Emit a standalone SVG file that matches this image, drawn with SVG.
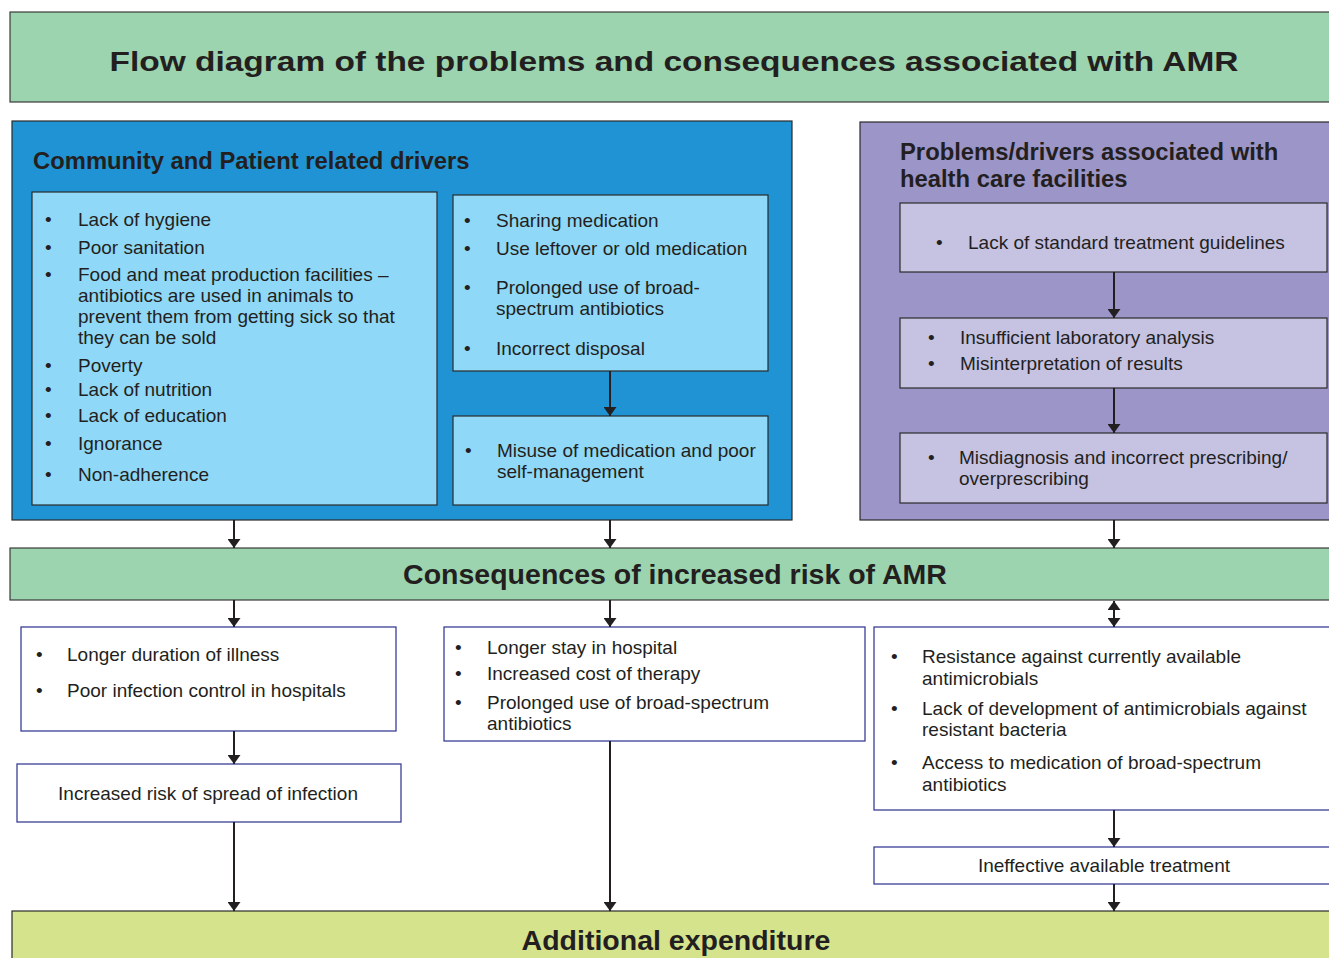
<svg xmlns="http://www.w3.org/2000/svg" width="1329" height="958" viewBox="0 0 1329 958">
  <defs>
    <marker id="head" viewBox="0 0 9 13" refX="9" refY="6.5" markerWidth="9" markerHeight="13" markerUnits="userSpaceOnUse" orient="auto-start-reverse">
      <path d="M0,0 L9,6.5 L0,13 Z" fill="#231f20"/>
    </marker>
    <style>
      text { font-family: "Liberation Sans", Arial, sans-serif; fill: #231f20; }
      .body { font-size: 19px; }
      .hd { font-size: 23.8px; font-weight: bold; }
      .big { font-size: 28.5px; font-weight: bold; }
      .green { fill: #9bd4ae; stroke: #3a3a3a; stroke-width: 1.2; }
      .blue { fill: #1f93d3; stroke: #2b2b2b; stroke-width: 1.2; }
      .lblue { fill: #8fd8f7; stroke: #2b2b2b; stroke-width: 1.2; }
      .purple { fill: #9b95c8; stroke: #2b2b2b; stroke-width: 1.2; }
      .lpurple { fill: #c5c2e2; stroke: #2b2b2b; stroke-width: 1.2; }
      .white { fill: #ffffff; stroke: #3b3f96; stroke-width: 1.3; }
      .lime { fill: #d4e38c; stroke: #2b2b2b; stroke-width: 1.2; }
      .conn line { stroke: #231f20; stroke-width: 2; marker-end: url(#head); }
    </style>
  </defs>
  <rect width="1329" height="958" fill="#ffffff"/>

  <!-- Title bar -->
  <g id="title">
    <rect class="green" x="10" y="12" width="1330" height="90"/>
    <text class="big" x="674" y="71" text-anchor="middle" font-size="31.5" textLength="1129" lengthAdjust="spacingAndGlyphs">Flow diagram of the problems and consequences associated with AMR</text>
  </g>

  <!-- Community and patient drivers -->
  <g id="community">
    <rect class="blue" x="12" y="121" width="780" height="399"/>
    <text class="hd" x="33" y="169">Community and Patient related drivers</text>
  </g>

  <g id="community-list">
    <rect class="lblue" x="32" y="192" width="405" height="313"/>
    <g class="body">
      <text x="45" y="226">•</text><text x="78" y="226">Lack of hygiene</text>
      <text x="45" y="254">•</text><text x="78" y="254">Poor sanitation</text>
      <text x="45" y="281">•</text><text x="78" y="281">Food and meat production facilities –</text>
      <text x="78" y="302">antibiotics are used in animals to</text>
      <text x="78" y="323">prevent them from getting sick so that</text>
      <text x="78" y="344">they can be sold</text>
      <text x="45" y="372">•</text><text x="78" y="372">Poverty</text>
      <text x="45" y="396">•</text><text x="78" y="396">Lack of nutrition</text>
      <text x="45" y="422">•</text><text x="78" y="422">Lack of education</text>
      <text x="45" y="450">•</text><text x="78" y="450">Ignorance</text>
      <text x="45" y="481">•</text><text x="78" y="481">Non-adherence</text>
    </g>
  </g>

  <g id="medication-use">
    <rect class="lblue" x="453" y="195" width="315" height="176"/>
    <g class="body">
      <text x="464" y="227">•</text><text x="496" y="227">Sharing medication</text>
      <text x="464" y="255">•</text><text x="496" y="255">Use leftover or old medication</text>
      <text x="464" y="294">•</text><text x="496" y="294">Prolonged use of broad-</text>
      <text x="496" y="315">spectrum antibiotics</text>
      <text x="464" y="355">•</text><text x="496" y="355">Incorrect disposal</text>
    </g>
  </g>

  <g id="misuse">
    <rect class="lblue" x="453" y="416" width="315" height="89"/>
    <g class="body">
      <text x="465" y="457">•</text><text x="497" y="457">Misuse of medication and poor</text>
      <text x="497" y="478">self-management</text>
    </g>
  </g>

  <!-- Health care facility drivers -->
  <g id="facilities">
    <rect class="purple" x="860" y="122" width="480" height="398"/>
    <text class="hd" x="900" y="160">Problems/drivers associated with</text>
    <text class="hd" x="900" y="187">health care facilities</text>
  </g>

  <g id="guidelines">
    <rect class="lpurple" x="900" y="203" width="427" height="69"/>
    <g class="body">
      <text x="936" y="249">•</text><text x="968" y="249">Lack of standard treatment guidelines</text>
    </g>
  </g>

  <g id="laboratory">
    <rect class="lpurple" x="900" y="318" width="427" height="70"/>
    <g class="body">
      <text x="928" y="344">•</text><text x="960" y="344">Insufficient laboratory analysis</text>
      <text x="928" y="370">•</text><text x="960" y="370">Misinterpretation of results</text>
    </g>
  </g>

  <g id="prescribing">
    <rect class="lpurple" x="900" y="433" width="427" height="70"/>
    <g class="body">
      <text x="928" y="464">•</text><text x="959" y="464">Misdiagnosis and incorrect prescribing/</text>
      <text x="959" y="485">overprescribing</text>
    </g>
  </g>

  <!-- Consequences bar -->
  <g id="consequences">
    <rect class="green" x="10" y="548" width="1330" height="52"/>
    <text class="big" x="675" y="584" text-anchor="middle">Consequences of increased risk of AMR</text>
  </g>

  <g id="illness">
    <rect class="white" x="21" y="627" width="375" height="104"/>
    <g class="body">
      <text x="36" y="661">•</text><text x="67" y="661">Longer duration of illness</text>
      <text x="36" y="697">•</text><text x="67" y="697">Poor infection control in hospitals</text>
    </g>
  </g>

  <g id="spread">
    <rect class="white" x="17" y="764" width="384" height="58"/>
    <text class="body" x="208" y="800" text-anchor="middle">Increased risk of spread of infection</text>
  </g>

  <g id="hospital-stay">
    <rect class="white" x="444" y="627" width="421" height="114"/>
    <g class="body">
      <text x="455" y="654">•</text><text x="487" y="654">Longer stay in hospital</text>
      <text x="455" y="680">•</text><text x="487" y="680">Increased cost of therapy</text>
      <text x="455" y="709">•</text><text x="487" y="709">Prolonged use of broad-spectrum</text>
      <text x="487" y="730">antibiotics</text>
    </g>
  </g>

  <g id="resistance">
    <rect class="white" x="874" y="627" width="470" height="183"/>
    <g class="body">
      <text x="891" y="663">•</text><text x="922" y="663">Resistance against currently available</text>
      <text x="922" y="685">antimicrobials</text>
      <text x="891" y="715">•</text><text x="922" y="715">Lack of development of antimicrobials against</text>
      <text x="922" y="736">resistant bacteria</text>
      <text x="891" y="769">•</text><text x="922" y="769">Access to medication of broad-spectrum</text>
      <text x="922" y="791">antibiotics</text>
    </g>
  </g>

  <g id="ineffective">
    <rect class="white" x="874" y="847" width="470" height="37"/>
    <text class="body" x="1104" y="872" text-anchor="middle">Ineffective available treatment</text>
  </g>

  <!-- Final outcome bar -->
  <g id="expenditure">
    <rect class="lime" x="12" y="911" width="1330" height="60"/>
    <text class="big" x="676" y="950" text-anchor="middle">Additional expenditure</text>
  </g>

  <!-- Connectors -->
  <g class="conn">
    <line x1="610" y1="371" x2="610" y2="416"/>
    <line x1="1114" y1="272" x2="1114" y2="318"/>
    <line x1="1114" y1="388" x2="1114" y2="433"/>
    <line x1="234" y1="520" x2="234" y2="548"/>
    <line x1="610" y1="520" x2="610" y2="548"/>
    <line x1="1114" y1="520" x2="1114" y2="548"/>
    <line x1="234" y1="600" x2="234" y2="627"/>
    <line x1="610" y1="600" x2="610" y2="627"/>
    <line x1="1114" y1="601" x2="1114" y2="627" style="marker-start: url(#head)"/>
    <line x1="234" y1="731" x2="234" y2="764"/>
    <line x1="234" y1="822" x2="234" y2="911"/>
    <line x1="610" y1="741" x2="610" y2="911"/>
    <line x1="1114" y1="810" x2="1114" y2="847"/>
    <line x1="1114" y1="884" x2="1114" y2="911"/>
  </g>
</svg>
